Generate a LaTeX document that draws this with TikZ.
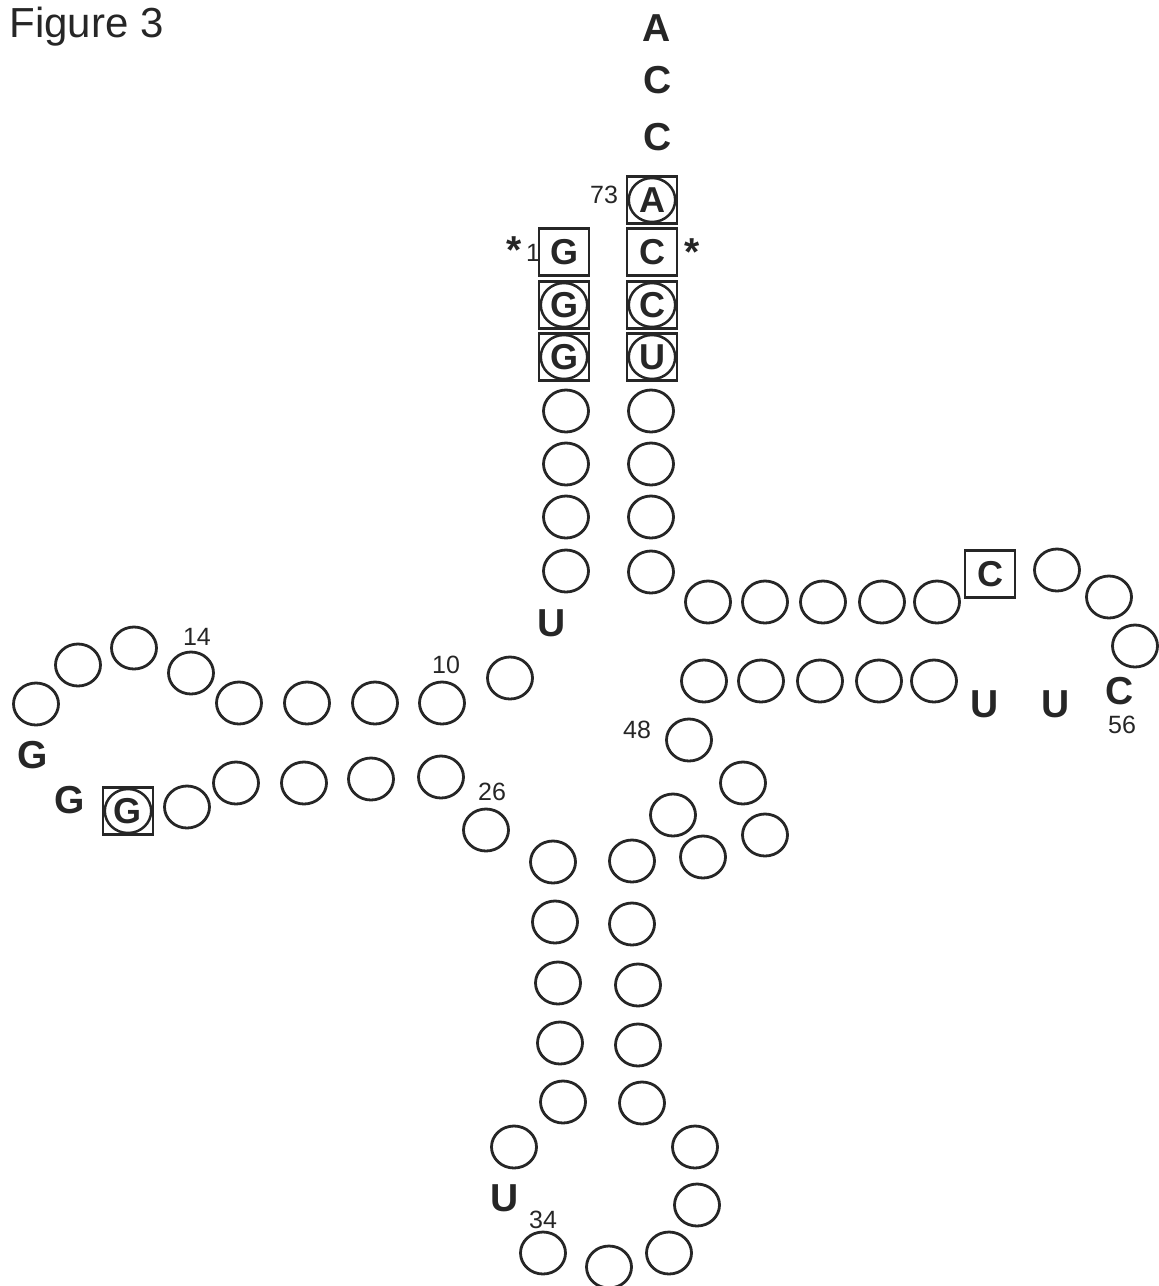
\documentclass[tikz,border=0pt]{standalone}
\usepackage{fontspec}
\setmainfont{Liberation Sans}
\usetikzlibrary{shapes.geometric}
\definecolor{ink}{RGB}{38,38,38}

\begin{document}
\begin{tikzpicture}[x=0.5pt,y=-0.5pt,line width=1.4pt,ink,
    nt/.style={draw,ellipse,minimum width=22.5pt,minimum height=21pt,inner sep=0pt},
    bx/.style={draw,rectangle,minimum width=25pt,minimum height=23.5pt,inner sep=0pt,
      font=\fontsize{18}{18}\selectfont\bfseries},
    cbx/.style={bx,path picture={\draw[line width=1.25pt] (path picture bounding box.center)
      ellipse (11.6pt and 11pt);}},
    b/.style={font=\fontsize{19.5}{20}\selectfont\bfseries,inner sep=0pt},
    num/.style={font=\fontsize{12.5}{13}\selectfont,inner sep=0pt}]
  \useasboundingbox (0,0) rectangle (1159,1286);
  \node[anchor=base west,inner sep=0pt,font=\fontsize{21}{21}\selectfont] (fig) at (8,37) {Figure 3};

  % CCA end and acceptor stem
  \node[b] (n76) at (657,28) {A};
  \node[b] (n75) at (658,80) {C};
  \node[b] (n74) at (658,137) {C};
  \node[cbx] (n73) at (652,200) {A};
  \node[num] (lab73) at (604,195) {73};
  \node[bx] (n1) at (564,252) {G};
  \node[bx] (n72) at (652,252) {C};
  \node[cbx] (n2) at (564,305) {G};
  \node[cbx] (n71) at (652,305) {C};
  \node[cbx] (n3) at (564,357) {G};
  \node[cbx] (n70) at (652,357) {U};
  \node[b,anchor=base] (st1) at (514,263) {*};
  \node[num] (lab1) at (533,253) {1};
  \node[b,anchor=base] (st72) at (692,265) {*};
  \foreach \i/\y in {4/411,5/464,6/517,7/571}{\node[nt] (n\i) at (566,\y) {};}
  \foreach \i/\y in {69/411,68/464,67/517,66/572}{\node[nt] (n\i) at (651,\y) {};}
  \node[b] (n8) at (552,623) {U};
  \node[nt] (n9) at (510,678) {};

  % D arm
  \foreach \i/\x in {10/442,11/375,12/307,13/239}{\node[nt] (n\i) at (\x,703) {};}
  \foreach \i/\x/\y in {14/191/673,15/134/648,16/78/665,17/36/704}
    {\node[nt] (n\i) at (\x,\y) {};}
  \node[b] (n18) at (33,755) {G};
  \node[b] (n19) at (70,800) {G};
  \node[cbx] (n20) at (128,811) {G};
  \foreach \i/\x/\y in {21/187/807,22/236/783,23/304/783,24/371/779,25/441/777,26/486/830}
    {\node[nt] (n\i) at (\x,\y) {};}
  \node[num] (lab10) at (446,665) {10};
  \node[num] (lab14) at (197,637) {14};
  \node[num] (lab26) at (492,792) {26};

  % anticodon arm
  \foreach \i/\x/\y in {27/553/862,28/555/922,29/558/983,30/560/1043,31/563/1102,32/514/1147}
    {\node[nt] (n\i) at (\x,\y) {};}
  \node[b] (n33) at (505,1198) {U};
  \foreach \i/\x/\y in {34/543/1253,35/609/1267,36/669/1253,37/697/1205,38/695/1147,
      39/642/1103,40/638/1045,41/638/985,42/632/924,43/632/861}
    {\node[nt] (n\i) at (\x,\y) {};}
  \node[num] (lab34) at (543,1220) {34};

  % variable loop
  \foreach \i/\x/\y in {44/703/857,45/673/815,46/765/835,47/743/783,48/689/740}
    {\node[nt] (n\i) at (\x,\y) {};}
  \node[num] (lab48) at (637,730) {48};

  % T arm
  \foreach \i/\x in {49/704,50/761,51/820,52/879,53/934}{\node[nt] (n\i) at (\x,681) {};}
  \node[b] (n54) at (985,704) {U};
  \node[b] (n55) at (1056,704) {U};
  \node[b] (n56) at (1120,691) {C};
  \node[num] (lab56) at (1122,725) {56};
  \foreach \i/\x/\y in {57/1135/646,58/1109/597,59/1057/570}{\node[nt] (n\i) at (\x,\y) {};}
  \node[bx] (n60) at (990,574) {C};
  \foreach \i/\x in {61/937,62/882,63/823,64/765,65/708}{\node[nt] (n\i) at (\x,602) {};}
\end{tikzpicture}
\end{document}
